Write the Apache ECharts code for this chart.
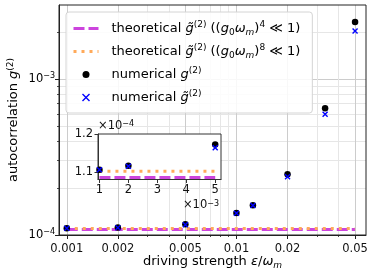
<!DOCTYPE html>
<html><head><meta charset="utf-8">
<script src="https://cdn.jsdelivr.net/npm/echarts@6/dist/echarts.min.js"></script>
<style>html,body{margin:0;padding:0;background:#fff}#c{width:374px;height:275px}</style>
</head><body><div id="c"></div>
<script>
// ---- data ----
const eps = [0.001, 0.002, 0.005, 0.01, 0.0125, 0.02, 0.0333, 0.05];
const g2Num = [1.106e-4, 1.116e-4, 1.172e-4, 1.384e-4, 1.555e-4, 2.455e-4, 6.51e-4, 2.33e-3];
const g2TildeNum = [1.106e-4, 1.115e-4, 1.164e-4, 1.38e-4, 1.545e-4, 2.368e-4, 5.96e-4, 2.04e-3];
const thEps = [0.001, 0.005, 0.05];
const th4 = [1.085e-4, 1.085e-4, 1.085e-4];
const th8 = [1.102e-4, 1.102e-4, 1.102e-4];
const xMajorTicks = [0.001, 0.002, 0.005, 0.01, 0.02, 0.05];
const xMajorLabels = ['0.001', '0.002', '0.005', '0.01', '0.02', '0.05'];
const xMinorTicks = [0.003, 0.004, 0.006, 0.007, 0.008, 0.009, 0.03, 0.04];
const yMajorTicks = [1e-4, 1e-3];
const yMinorTicks = [2e-4, 3e-4, 4e-4, 5e-4, 6e-4, 7e-4, 8e-4, 9e-4, 2e-3];
const insetXTicks = [1, 2, 3, 4, 5];
const insetYTicks = [1.1, 1.2];
const insetEpsMax = 0.005;
const insetXUnit = 1e-3;
const insetYUnit = 1e-4;

const FONT = 'DejaVu Sans';
const MAGENTA = '#cc44dd';
const ORANGE = '#ffaa5a';
const zip = (xs, ys) => xs.map((x, i) => [x, ys[i]]);
const insetPts = (xs, ys) => xs.map((x, i) => [x, ys[i]]).filter(p => p[0] <= insetEpsMax + 1e-12).map(p => [p[0] / insetXUnit, p[1] / insetYUnit]);

const richBase = (fs, lh) => ({
  it: {fontStyle: 'italic', fontSize: fs, fontFamily: FONT, color: '#000', verticalAlign: 'middle', lineHeight: lh},
  n: {fontSize: fs, fontFamily: FONT, color: '#000', verticalAlign: 'middle', lineHeight: lh},
  sup: {fontSize: Math.round(fs * 0.7), fontFamily: FONT, color: '#000', verticalAlign: 'top'},
  sub: {fontSize: Math.round(fs * 0.7), fontFamily: FONT, color: '#000', verticalAlign: 'bottom'},
  subit: {fontSize: Math.round(fs * 0.7), fontStyle: 'italic', fontFamily: FONT, color: '#000', verticalAlign: 'bottom'}
});

const legendText = {
  th4: '{n|theoretical }{it|g\u0303}{sup|(2)}{n| ((}{it|g}{sub|0}{it|ω}{subit|m}{n|)}{sup|4}{n| ≪ 1)}',
  th8: '{n|theoretical }{it|g\u0303}{sup|(2)}{n| ((}{it|g}{sub|0}{it|ω}{subit|m}{n|)}{sup|8}{n| ≪ 1)}',
  num: '{n|numerical }{it|g}{sup|(2)}',
  numt: '{n|numerical }{it|g\u0303}{sup|(2)}'
};

const xPath = 'path://M0,0L10,10M10,0L0,10';

const chart = echarts.init(document.getElementById('c'), null, {renderer: 'canvas'});
const mainAxisCommon = {nameMoveOverlap: false};
const option = {
  animation: false,
  backgroundColor: '#fff',
  grid: [
    {left: 59, top: 5, right: 8, bottom: 40, show: true, borderColor: '#222', borderWidth: 1, backgroundColor: 'transparent', z: 3, outerBoundsMode: 'none', containLabel: false},
    {left: 98, top: 134, width: 123, height: 45.5, show: true, borderColor: '#333', borderWidth: 1, backgroundColor: '#fff', z: 10, outerBoundsMode: 'none', containLabel: false}
  ],
  xAxis: [
    Object.assign({
      gridIndex: 0, type: 'log', logBase: 10, min: 0.0009, max: 0.058, position: 'bottom',
      name: '{n|driving strength }{it|ε}{n|/}{it|ω}{subit|m}', nameLocation: 'middle', nameGap: 19,
      nameTextStyle: {fontSize: 13, fontFamily: FONT, color: '#000', rich: richBase(13, 16)},
      axisLine: {show: true, onZero: false, lineStyle: {color: '#222', width: 1}},
      axisTick: {show: true, customValues: xMajorTicks, length: 4, lineStyle: {color: '#222', width: 1}},
      axisLabel: {show: true, customValues: xMajorTicks, margin: 8, fontSize: 11.5, fontFamily: FONT, color: '#111',
        formatter: v => { const i = xMajorTicks.findIndex(t => Math.abs(t - v) / t < 1e-6); return i >= 0 ? xMajorLabels[i] : ''; }},
      splitLine: {show: true, lineStyle: {color: '#cccccc', width: 1}},
      minorTick: {show: false}, minorSplitLine: {show: false}, z: 0
    }, mainAxisCommon),
    Object.assign({
      gridIndex: 0, type: 'log', logBase: 10, min: 0.0009, max: 0.058, position: 'bottom',
      axisLine: {show: false, onZero: false},
      axisTick: {show: true, customValues: xMinorTicks, length: 2, lineStyle: {color: '#222', width: 0.8}},
      axisLabel: {show: false, customValues: xMinorTicks},
      splitLine: {show: true, lineStyle: {color: '#e6e6e6', width: 1}},
      minorTick: {show: false}, minorSplitLine: {show: false}, z: 0
    }, mainAxisCommon),
    Object.assign({
      gridIndex: 1, type: 'value', min: 0.95, max: 5.2, position: 'bottom',
      name: '×10{sup|−3}', nameLocation: 'end', nameGap: -2,
      nameTextStyle: {fontSize: 11.5, fontFamily: FONT, color: '#111', align: 'right', verticalAlign: 'top', padding: [20, 0, 0, 0], rich: richBase(11.5, 14)},
      axisLine: {show: true, onZero: false, lineStyle: {color: '#333', width: 1}},
      axisTick: {show: true, customValues: insetXTicks, length: 3.5, lineStyle: {color: '#333'}},
      axisLabel: {show: true, customValues: insetXTicks, margin: 5, fontSize: 11.5, fontFamily: FONT, color: '#111', formatter: v => String(Math.round(v))},
      splitLine: {show: false}, z: 11
    }, mainAxisCommon)
  ],
  yAxis: [
    Object.assign({
      gridIndex: 0, type: 'log', logBase: 10, min: 1e-4, max: 3e-3, position: 'left',
      name: '{n|autocorrelation }{it|g}{sup|(2)}', nameLocation: 'middle', nameGap: 37,
      nameTextStyle: {fontSize: 13, fontFamily: FONT, color: '#000', rich: richBase(13, 16)},
      axisLine: {show: true, onZero: false, lineStyle: {color: '#222', width: 1}},
      axisTick: {show: true, customValues: yMajorTicks, length: 4, lineStyle: {color: '#222', width: 1}},
      axisLabel: {show: true, customValues: yMajorTicks, margin: 4, fontSize: 11.5, fontFamily: FONT, color: '#111',
        formatter: v => '{n|10}{sup|−' + Math.round(-Math.log10(v)) + '}', rich: richBase(11.5, 15)},
      splitLine: {show: true, lineStyle: {color: '#cccccc', width: 1}},
      minorTick: {show: false}, minorSplitLine: {show: false}, z: 0
    }, mainAxisCommon),
    Object.assign({
      gridIndex: 0, type: 'log', logBase: 10, min: 1e-4, max: 3e-3, position: 'left',
      axisLine: {show: false, onZero: false},
      axisTick: {show: true, customValues: yMinorTicks, length: 2, lineStyle: {color: '#222', width: 0.8}},
      axisLabel: {show: false, customValues: yMinorTicks},
      splitLine: {show: true, lineStyle: {color: '#e6e6e6', width: 1}},
      minorTick: {show: false}, minorSplitLine: {show: false}, z: 0
    }, mainAxisCommon),
    Object.assign({
      gridIndex: 1, type: 'value', min: 1.08, max: 1.2, position: 'left',
      name: '×10{sup|−4}', nameLocation: 'end', nameGap: 2,
      nameTextStyle: {fontSize: 11.5, fontFamily: FONT, color: '#111', align: 'left', rich: richBase(11.5, 14)},
      axisLine: {show: true, onZero: false, lineStyle: {color: '#333', width: 1}},
      axisTick: {show: true, customValues: insetYTicks, length: 3.5, lineStyle: {color: '#333'}},
      axisLabel: {show: true, customValues: insetYTicks, margin: 5, fontSize: 11.5, fontFamily: FONT, color: '#111', formatter: v => v.toFixed(1)},
      splitLine: {show: false}, z: 11
    }, mainAxisCommon)
  ],
  legend: {
    orient: 'vertical', left: 66, top: 12, z: 20,
    padding: [8, 12, 7, 6], itemGap: 6, itemWidth: 25, itemHeight: 7,
    backgroundColor: 'rgba(255,255,255,0.85)', borderColor: '#d4d4d4', borderWidth: 1, borderRadius: 3,
    data: [
      {name: 'th4', itemStyle: {opacity: 0, color: 'transparent', borderWidth: 0}, lineStyle: {color: MAGENTA, width: 3, type: [11, 4], opacity: 1}},
      {name: 'th8', itemStyle: {opacity: 0, color: 'transparent', borderWidth: 0}, lineStyle: {color: ORANGE, width: 3, type: [3, 5], opacity: 1}},
      {name: 'num', icon: 'circle', itemStyle: {color: '#000', borderWidth: 0, opacity: 1}},
      {name: 'numt', icon: xPath, itemStyle: {color: '#0000ff', borderColor: '#0000ff', borderWidth: 1.4, opacity: 1}}
    ],
    formatter: name => legendText[name],
    textStyle: {fontSize: 13, fontFamily: FONT, color: '#000', padding: [0, 0, 0, 8], height: 17, lineHeight: 17, rich: richBase(13, 17)}
  },
  series: [
    {name: 'th4', type: 'line', xAxisIndex: 0, yAxisIndex: 0, data: zip(thEps, th4), symbol: 'none', z: 2,
      lineStyle: {color: MAGENTA, width: 3, type: [11, 4]}, itemStyle: {color: MAGENTA}},
    {name: 'th8', type: 'line', xAxisIndex: 0, yAxisIndex: 0, data: zip(thEps, th8), symbol: 'none', z: 2,
      lineStyle: {color: ORANGE, width: 3, type: [3, 5]}, itemStyle: {color: ORANGE}},
    {name: 'num', type: 'scatter', xAxisIndex: 0, yAxisIndex: 0, data: zip(eps, g2Num), symbol: 'circle', symbolSize: 6.5, z: 3,
      itemStyle: {color: '#000', opacity: 1}},
    {name: 'numt', type: 'scatter', xAxisIndex: 0, yAxisIndex: 0, data: zip(eps, g2TildeNum), symbol: xPath, symbolSize: 5, z: 4,
      itemStyle: {color: '#0000ff', borderColor: '#0000ff', borderWidth: 1.4, opacity: 1}},
    {name: 'th4i', type: 'line', xAxisIndex: 2, yAxisIndex: 2, data: insetPts(thEps, th4), symbol: 'none', z: 12,
      lineStyle: {color: MAGENTA, width: 3, type: [11, 4]}},
    {name: 'th8i', type: 'line', xAxisIndex: 2, yAxisIndex: 2, data: insetPts(thEps, th8), symbol: 'none', z: 12,
      lineStyle: {color: ORANGE, width: 3, type: [3, 5]}},
    {name: 'numi', type: 'scatter', xAxisIndex: 2, yAxisIndex: 2, data: insetPts(eps, g2Num), symbol: 'circle', symbolSize: 6.5, z: 13,
      itemStyle: {color: '#000', opacity: 1}},
    {name: 'numti', type: 'scatter', xAxisIndex: 2, yAxisIndex: 2, data: insetPts(eps, g2TildeNum), symbol: xPath, symbolSize: 5, z: 14,
      itemStyle: {color: '#0000ff', borderColor: '#0000ff', borderWidth: 1.4, opacity: 1}}
  ]
};
chart.setOption(option);
</script>
</body></html>
